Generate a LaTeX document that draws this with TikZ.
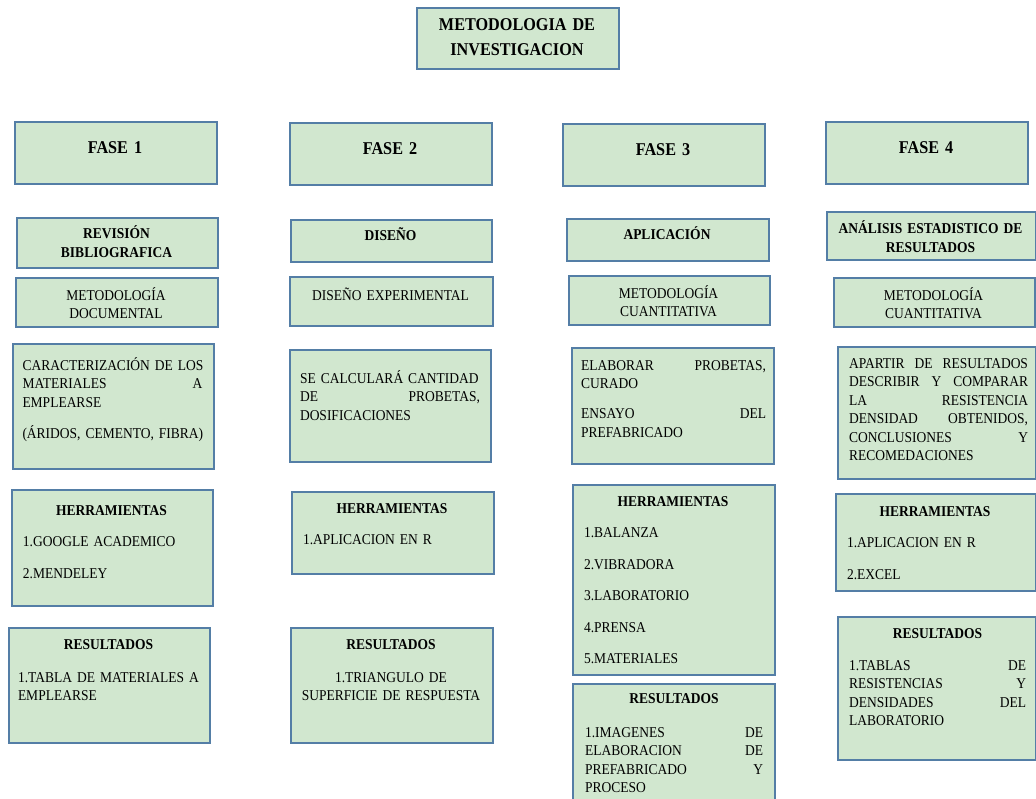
\documentclass[tikz,border=0pt]{standalone}
\usepackage{fontspec}
\setmainfont{Liberation Serif}[FakeStretch=0.9, WordSpace=0.8]
\usetikzlibrary{positioning}
\definecolor{cajaverde}{RGB}{209,231,207}
\definecolor{cajaborde}{RGB}{84,126,166}
\hyphenpenalty=10000
\exhyphenpenalty=10000
\begin{document}
\begin{tikzpicture}[x=1pt, y=-1pt, font=\fontsize{15}{18.5}\selectfont]
    \tikzset{%
      caja/.style 2 args={draw=cajaborde, fill=cajaverde, line width=2pt, inner sep=0pt,
        anchor=north west, minimum width=#1pt, minimum height=#2pt},
      txt/.style={inner sep=0pt, anchor=base, text width=#1pt, align=left},
      txtc/.style={txt=#1, align=center},
      negrita/.style={font=\bfseries\fontsize{15}{19}\selectfont},
      grande/.style={font=\bfseries\fontsize{18}{25}\selectfont}
      }
    \useasboundingbox (0,0) rectangle (1036,798);

    \node [caja={202}{61}] (titulo) at (416,7) {};
    \node [txtc=190, grande] (titulot) at (517,30) {METODOLOGIA DE\\INVESTIGACION};

    % fases
    \node [caja={202}{62}] (fase1) at (14,121) {};
    \node [caja={202}{62}] (fase2) at (289,122) {};
    \node [caja={202}{62}] (fase3) at (562,123) {};
    \node [caja={202}{62}] (fase4) at (825,121) {};
    \node [txtc=180, grande] (fase1t) at (115,153) {FASE 1};
    \node [txtc=180, grande] (fase2t) at (390,154) {FASE 2};
    \node [txtc=180, grande] (fase3t) at (663,155) {FASE 3};
    \node [txtc=180, grande] (fase4t) at (926,153) {FASE 4};

    \node [caja={201}{50}] (rev) at (16,217) {};
    \node [caja={201}{42}] (dis) at (290,219) {};
    \node [caja={202}{42}] (apl) at (566,218) {};
    \node [caja={209}{48}] (ana) at (826,211) {};
    \node [txtc=190, negrita] (revt) at (116.5,238) {REVISIÓN\\BIBLIOGRAFICA};
    \node [txtc=190, negrita] (dist) at (390.5,240) {DISEÑO};
    \node [txtc=190, negrita] (aplt) at (667,239) {APLICACIÓN};
    \node [txtc=205, negrita] (anat) at (930.5,233) {ANÁLISIS ESTADISTICO DE\\RESULTADOS};

    \node [caja={202}{49}] (mdoc) at (15,277) {};
    \node [caja={203}{49}] (dexp) at (289,276) {};
    \node [caja={201}{49}] (mcua3) at (568,275) {};
    \node [caja={201}{49}] (mcua4) at (833,277) {};
    \node [txtc=190] (mdoct) at (116,300) {METODOLOGÍA\\DOCUMENTAL};
    \node [txtc=190] (dexpt) at (390.5,300) {DISEÑO EXPERIMENTAL};
    \node [txtc=190] (mcua3t) at (668.5,298) {METODOLOGÍA\\CUANTITATIVA};
    \node [txtc=190] (mcua4t) at (933.5,300) {METODOLOGÍA\\CUANTITATIVA};

    % descripcion
    \node [caja={201}{125}] (desc1) at (12,343) {};
    \node [caja={201}{112}] (desc2) at (289,349) {};
    \node [caja={202}{116}] (desc3) at (571,347) {};
    \node [caja={198}{132}] (desc4) at (837,346) {};
    \node [txt=180] (desc1t) at (112.5,370) {CARACTERIZACIÓN~DE~LOS\\
      MATERIALES \hfill A\\ EMPLEARSE\\[12.5pt] (ÁRIDOS,~CEMENTO,~FIBRA)};
    \node [txt=180] (desc2t) at (390,383) {SE~CALCULARÁ~CANTIDAD\\
      DE \hfill PROBETAS,\\ DOSIFICACIONES};
    \node [txt=185] (desc3t) at (673.5,370) {ELABORAR \hfill PROBETAS,\\
      CURADO\\[11.5pt] ENSAYO \hfill DEL\\ PREFABRICADO};
    \node [txt=179] (desc4t) at (938.5,368) {APARTIR \hfill DE \hfill RESULTADOS\\
      DESCRIBIR \hfill Y \hfill COMPARAR\\ LA \hfill RESISTENCIA\\
      DENSIDAD \hfill OBTENIDOS,\\ CONCLUSIONES \hfill Y\\ RECOMEDACIONES};

    % herramientas
    \node [caja={201}{116}] (herr1) at (11,489) {};
    \node [caja={202}{82}] (herr2) at (291,491) {};
    \node [caja={202}{190}] (herr3) at (572,484) {};
    \node [caja={200}{97}] (herr4) at (835,493) {};
    \node [txt=177] (herr1t) at (111.5,515) {\makebox[\linewidth]{\textbf{HERRAMIENTAS}}\\[13pt]
      1.GOOGLE ACADEMICO\\[13pt] 2.MENDELEY};
    \node [txt=178] (herr2t) at (392,513) {\makebox[\linewidth]{\textbf{HERRAMIENTAS}}\\[13pt]
      1.APLICACION EN R};
    \node [txt=178] (herr3t) at (673,506) {\makebox[\linewidth]{\textbf{HERRAMIENTAS}}\\[13pt]
      1.BALANZA\\[13pt] 2.VIBRADORA\\[13pt] 3.LABORATORIO\\[13pt] 4.PRENSA\\[13pt] 5.MATERIALES};
    \node [txt=176] (herr4t) at (935,516) {\makebox[\linewidth]{\textbf{HERRAMIENTAS}}\\[13pt]
      1.APLICACION EN R\\[13pt] 2.EXCEL};

    % resultados
    \node [caja={201}{115}] (res1) at (8,627) {};
    \node [caja={202}{115}] (res2) at (290,627) {};
    \node [caja={202}{125}] (res3) at (572,683) {};
    \node [caja={198}{143}] (res4) at (837,616) {};
    \node [txt=181] (res1t) at (108.5,649) {\makebox[\linewidth]{\textbf{RESULTADOS}}\\[14.5pt]
      1.TABLA~DE~MATERIALES~A\\ EMPLEARSE};
    \node [txtc=190] (res2t) at (391,649) {\textbf{RESULTADOS}\\[14.5pt]
      1.TRIANGULO DE\\ SUPERFICIE~DE~RESPUESTA};
    \node [txt=178] (res3t) at (674,703) {\makebox[\linewidth]{\textbf{RESULTADOS}}\\[15.5pt]
      1.IMAGENES \hfill DE\\ ELABORACION \hfill DE\\ PREFABRICADO \hfill Y\\ PROCESO};
    \node [txt=177] (res4t) at (937.5,638) {\makebox[\linewidth]{\textbf{RESULTADOS}}\\[13.5pt]
      1.TABLAS \hfill DE\\ RESISTENCIAS \hfill Y\\ DENSIDADES \hfill DEL\\ LABORATORIO};
  \end{tikzpicture}
\end{document}
